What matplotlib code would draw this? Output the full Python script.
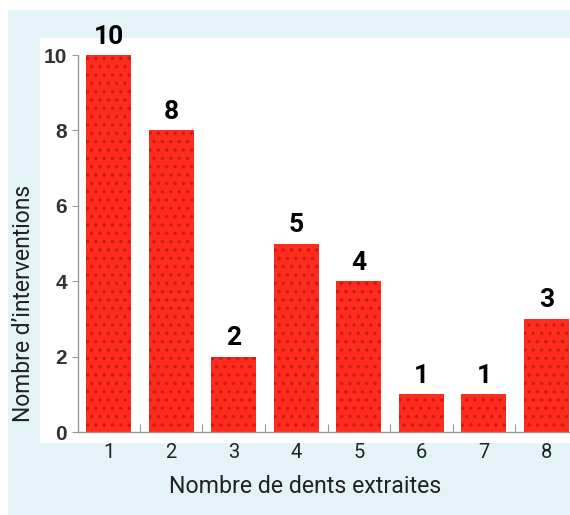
import matplotlib
matplotlib.use("Agg")
import matplotlib.pyplot as plt
from matplotlib.patches import Rectangle

categories = [1, 2, 3, 4, 5, 6, 7, 8]
counts = [10, 8, 2, 5, 4, 1, 1, 3]
yticks = [0, 2, 4, 6, 8, 10]
xlabel = "Nombre de dents extraites"
ylabel = "Nombre d\u2019interventions"

plt.rcParams['font.family'] = ['Roboto', 'DejaVu Sans']
plt.rcParams['hatch.linewidth'] = 1.3

fig = plt.figure(figsize=(5.7, 5.15), dpi=100)
fig.patch.set_facecolor('white')
W, H = 570, 515
# light blue frame
fig.patches.append(Rectangle((8 / W, 0), 1 - 8 / W, 1 - 10 / H, transform=fig.transFigure,
                             facecolor='#e4f3f8', edgecolor='none', zorder=-2))
# white panel
fig.patches.append(Rectangle((40 / W, 1 - 443 / H), 1 - 40 / W, (443 - 38) / H, transform=fig.transFigure,
                             facecolor='white', edgecolor='none', zorder=-1))

ax = fig.add_axes([78 / W, 1 - 432 / H, 1 - 78 / W, (432 - 55) / H])
ax.set_facecolor('none')
bars = ax.bar(categories, counts, width=0.72, color='#ff2b1c', edgecolor='#c81c1c',
              linewidth=0, hatch='..', zorder=2)
for x, v in zip(categories, counts):
    ax.text(x, v + 0.17, str(v), ha='center', va='bottom', fontsize=19, fontweight='bold',
            color='black', clip_on=False)

ax.set_xlim(0.512, 8.375)
ax.set_ylim(0, 10)
ax.set_yticks(yticks)
ax.set_yticklabels([str(t) for t in yticks], fontsize=15, fontweight='bold', color='#333333',
                   family=['Liberation Sans', 'DejaVu Sans'])
ax.set_xticks(categories)
ax.set_xticklabels([str(c) for c in categories], fontsize=14.5, color='#222222')
ax.set_xticks([c + 0.5 for c in categories[:-1]], minor=True)
ax.tick_params(axis='x', which='major', length=0, pad=8)
ax.tick_params(axis='x', which='minor', direction='in', length=6, color='#999999', width=0.8)
ax.tick_params(axis='y', direction='out', length=4, color='#999999', width=0.8, pad=4)

for s in ['top', 'right']:
    ax.spines[s].set_visible(False)
for s in ['left', 'bottom']:
    ax.spines[s].set_color('#999999')
    ax.spines[s].set_linestyle((0, (1, 1)))
    ax.spines[s].set_linewidth(1.0)

fig.text(305 / W, 1 - 493 / H, xlabel, ha='center', va='baseline', fontsize=16.7,
         fontweight='normal', color='#222222')
fig.text(24 / W, 1 - 303 / H, ylabel, ha='center', va='center', rotation=90, fontsize=16.5,
         fontweight='normal', color='#222222')

fig.savefig('out.png', dpi=100, facecolor=fig.get_facecolor())
